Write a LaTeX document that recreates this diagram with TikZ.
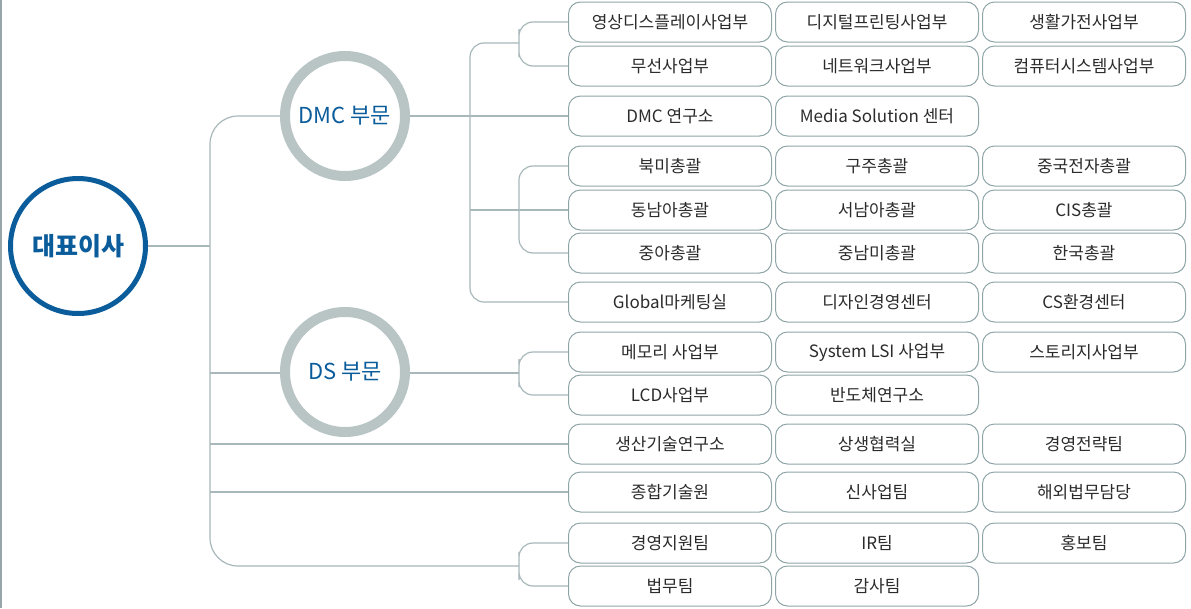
\documentclass[tikz,border=0pt]{standalone}
\usepackage{fontspec}
\setmainfont{Noto Sans CJK KR}
\definecolor{linec}{HTML}{A7B7BA}
\definecolor{boxc}{HTML}{8FA4A7}
\definecolor{ringc}{HTML}{B9C5C5}
\definecolor{bluec}{HTML}{0B5C9B}
\definecolor{txtc}{HTML}{2B2B2B}
\tikzset{
  box/.style={draw=boxc, line width=1pt, rounded corners=12pt, minimum width=203pt, minimum height=40pt, text=txtc, font=\fontsize{17pt}{20pt}\selectfont},
  link/.style={draw=linec, line width=1.2pt},
  ring/.style={circle, draw=ringc, line width=10pt, minimum size=120pt, text=bluec, font=\fontsize{22pt}{26pt}\selectfont},
}
\begin{document}
\begin{tikzpicture}[x=1pt, y=-1pt]
\useasboundingbox (0,0) rectangle (1191,608);
\draw [draw=linec!90!black, line width=1.5pt] (0.75,0) -- (0.75,608);

\node [circle, draw=bluec, line width=5pt, minimum size=135pt, text=bluec, font=\fontsize{25pt}{30pt}\selectfont\bfseries] (ceo) at (78,246) {대표이사};
\node [ring] (dmc) at (345,116) {DMC 부문};
\node [ring] (ds) at (345,372) {DS 부문};

\node [box] (a1) at (670,22) {영상디스플레이사업부};
\node [box] (a2) at (877,22) {디지털프린팅사업부};
\node [box] (a3) at (1084,22) {생활가전사업부};
\node [box] (b1) at (670,66) {무선사업부};
\node [box] (b2) at (877,66) {네트워크사업부};
\node [box] (b3) at (1084,66) {컴퓨터시스템사업부};
\node [box] (c1) at (670,116) {DMC 연구소};
\node [box] (c2) at (877,116) {Media Solution 센터};

\node [box] (d1) at (670,166) {북미총괄};
\node [box] (d2) at (877,166) {구주총괄};
\node [box] (d3) at (1084,166) {중국전자총괄};
\node [box] (e1) at (670,210) {동남아총괄};
\node [box] (e2) at (877,210) {서남아총괄};
\node [box] (e3) at (1084,210) {CIS총괄};
\node [box] (f1) at (670,253) {중아총괄};
\node [box] (f2) at (877,253) {중남미총괄};
\node [box] (f3) at (1084,253) {한국총괄};
\node [box] (g1) at (670,302) {Global마케팅실};
\node [box] (g2) at (877,302) {디자인경영센터};
\node [box] (g3) at (1084,302) {CS환경센터};

\node [box] (h1) at (670,352) {메모리 사업부};
\node [box] (h2) at (877,352) {System LSI 사업부};
\node [box] (h3) at (1084,352) {스토리지사업부};
\node [box] (i1) at (670,395) {LCD사업부};
\node [box] (i2) at (877,395) {반도체연구소};

\node [box] (j1) at (670,444) {생산기술연구소};
\node [box] (j2) at (877,444) {상생협력실};
\node [box] (j3) at (1084,444) {경영전략팀};
\node [box] (k1) at (670,492) {종합기술원};
\node [box] (k2) at (877,492) {신사업팀};
\node [box] (k3) at (1084,492) {해외법무담당};
\node [box] (l1) at (670,543) {경영지원팀};
\node [box] (l2) at (877,543) {IR팀};
\node [box] (l3) at (1084,543) {홍보팀};
\node [box] (m1) at (670,586) {법무팀};
\node [box] (m2) at (877,586) {감사팀};

\coordinate (t0) at (210,246);
\coordinate (t1) at (470,210);
\coordinate (ja) at (519,43);
\coordinate (jb) at (519,210);
\coordinate (jc) at (519,373);
\coordinate (jd) at (519,566);

\draw [link, rounded corners=28pt] (dmc.west) -| (t0) |- (jd);
\draw [link] (ceo.east) -- (t0);
\draw [link] (t0 |- jc) -- (ds.west |- jc);
\draw [link] (t0 |- j1.west) -- (j1.west);
\draw [link] (t0 |- k1.west) -- (k1.west);
\draw [link, rounded corners=14pt] (l1.west) -| (jd) |- (m1.west);

\draw [link] (dmc.east) -- (c1.west);
\draw [link, rounded corners=14pt] (ja) -| (t1) |- (g1.west);
\draw [link, rounded corners=14pt] (a1.west) -| (ja) |- (b1.west);
\draw [link] (t1) -- (e1.west);
\draw [link, rounded corners=14pt] (d1.west) -| (jb) |- (f1.west);

\draw [link] (ds.east |- jc) -- (jc);
\draw [link, rounded corners=14pt] (h1.west) -| (jc) |- (i1.west);

\end{tikzpicture}
\end{document}
